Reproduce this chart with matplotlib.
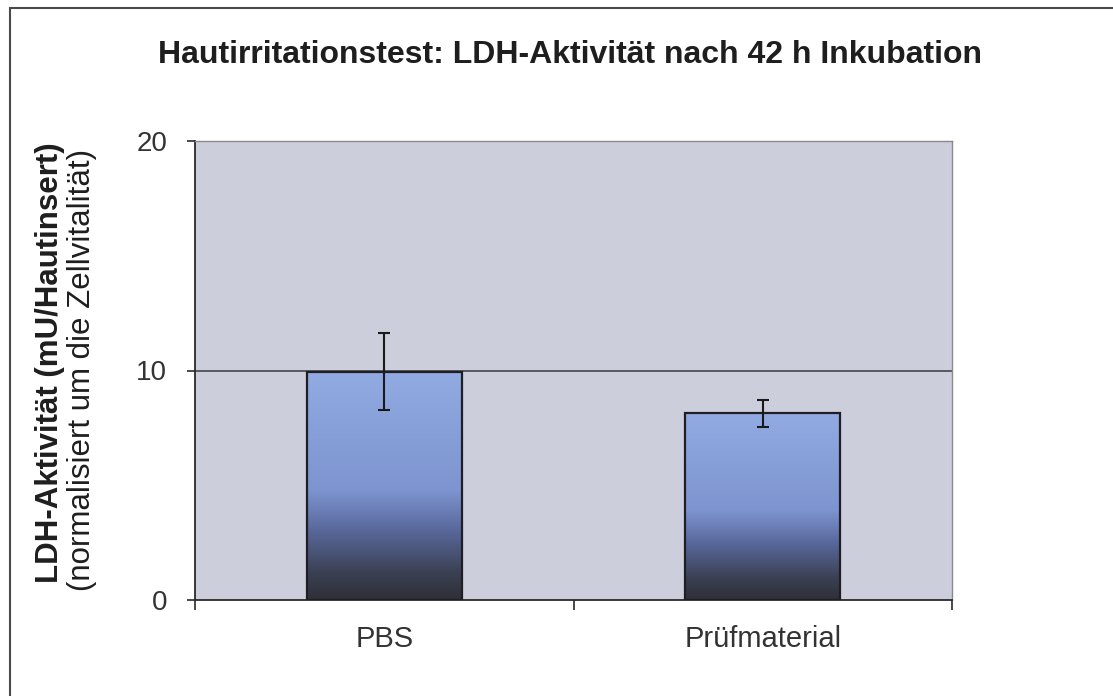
import numpy as np
import matplotlib
matplotlib.use('Agg')
import matplotlib.pyplot as plt
from matplotlib.colors import LinearSegmentedColormap
from matplotlib.patches import Rectangle

# values
categories = ['PBS', 'Prüfmaterial']
values = [9.95, 8.13]
errors = [1.68, 0.58]
y_ticks = [0, 10, 20]

title = 'Hautirritationstest: LDH-Aktivität nach 42 h Inkubation'
ylabel_main = 'LDH-Aktivität (mU/Hautinsert)'
ylabel_sub = '(normalisiert um die Zellvitalität)'

plt.rcParams['font.family'] = ['Liberation Sans', 'DejaVu Sans']

W, H = 1113, 696
fig = plt.figure(figsize=(W / 100, H / 100), dpi=100)
fig.patch.set_facecolor('white')

# outer chart frame (top and left edges visible)
fig.add_artist(Rectangle((10 / W, -0.05), 1.2, 1 - 8 / H + 0.05, transform=fig.transFigure,
                         facecolor='none', edgecolor='#4a4a4a', linewidth=1.5))

ax = fig.add_axes([195 / W, 1 - 600 / H, (952 - 195) / W, (600 - 141) / H])
ax.set_facecolor('#cdcedc')

x = np.arange(len(categories))
bars = ax.bar(x, values, width=0.41, facecolor='none', edgecolor='#1e1e24',
              linewidth=1.6, zorder=3)

# vertical blue -> dark gradient inside each bar
cmap = LinearSegmentedColormap.from_list('barfade', [
    (0.0, '#2e2f37'), (0.12, '#3b4154'), (0.3, '#58679a'),
    (0.48, '#7d94d0'), (1.0, '#92abe2')])
grad = np.linspace(0, 1, 256).reshape(-1, 1)
for b in bars:
    x0, y0 = b.get_x(), b.get_y()
    im = ax.imshow(grad, cmap=cmap, origin='lower', aspect='auto',
                   extent=(x0, x0 + b.get_width(), y0, y0 + b.get_height()),
                   zorder=2, interpolation='bilinear')
    im.set_clip_path(b)

ax.errorbar(x, values, yerr=errors, fmt='none', ecolor='#1a1a1a',
            elinewidth=1.5, capsize=4.5, capthick=1.5, zorder=4)

ax.set_xlim(-0.5, len(categories) - 0.5)
ax.set_ylim(0, 20)

# gridline at 10
ax.axhline(10, color='#3a3a3a', linewidth=1.1, zorder=1)

for side in ['top', 'right']:
    ax.spines[side].set_color('#8a8a8a')
    ax.spines[side].set_linewidth(1.0)
for side in ['left', 'bottom']:
    ax.spines[side].set_color('#2a2a2a')
    ax.spines[side].set_linewidth(1.3)

ax.set_yticks(y_ticks)
ax.tick_params(axis='y', direction='out', length=6, width=1.2, color='#2a2a2a',
               labelsize=20, labelcolor='#333333', pad=14)

# x ticks sit between categories; labels at category centres
ax.set_xticks(np.arange(-0.5, len(categories), 1.0))
ax.set_xticklabels([])
ax.set_xticks(x, minor=True)
ax.set_xticklabels(categories, minor=True)
ax.tick_params(axis='x', which='major', direction='out', length=7, width=1.2, color='#2a2a2a')
ax.tick_params(axis='x', which='minor', length=0, labelsize=21, labelcolor='#333333', pad=18)

fig.text(570 / W, 1 - 55 / H, title, ha='center', va='center',
         fontsize=23, fontweight='bold', color='#1e1e1e')
fig.text(50 / W, 1 - 363 / H, ylabel_main, ha='center', va='center', rotation=90,
         fontsize=22.5, fontweight='bold', color='#1e1e1e')
fig.text(82 / W, 1 - 370 / H, ylabel_sub, ha='center', va='center', rotation=90,
         fontsize=22.5, color='#1e1e1e')

fig.savefig('out.png', dpi=100)
